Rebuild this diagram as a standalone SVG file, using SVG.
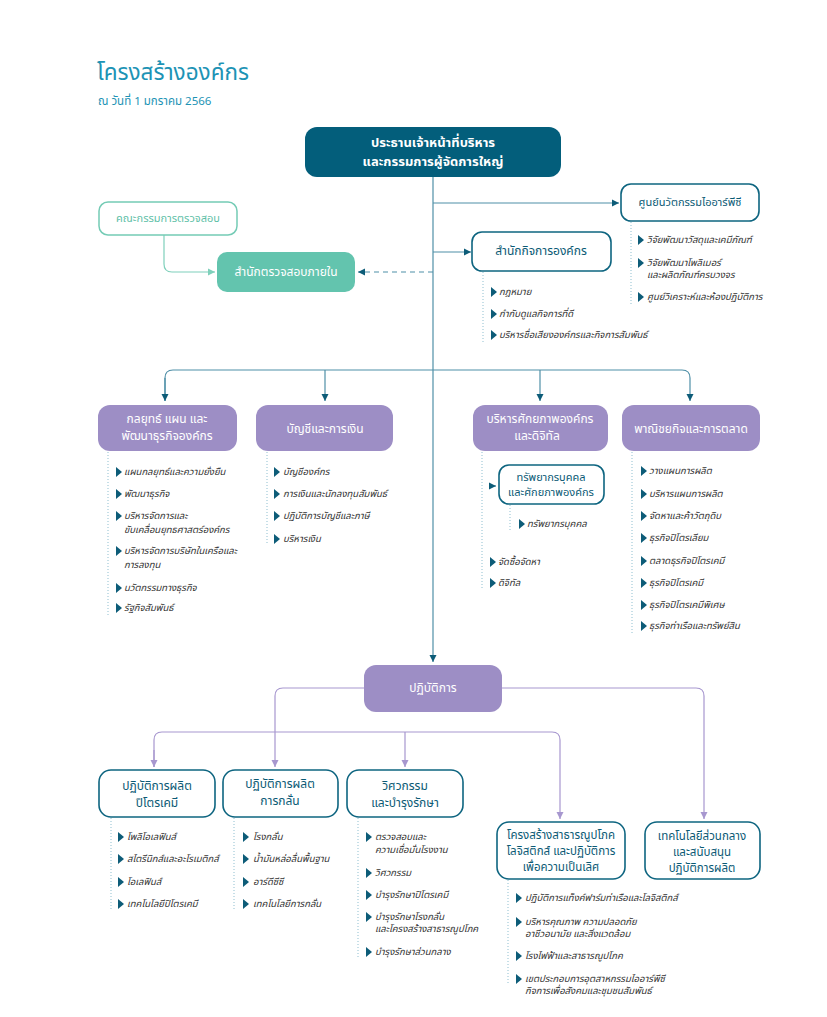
<svg xmlns="http://www.w3.org/2000/svg" xmlns:xlink="http://www.w3.org/1999/xlink" width="827" height="1017" viewBox="0 0 827 1017">
<defs>
<style>
text{font-family:"Noto Sans Thai","Noto Sans Thai UI","Noto Sans","DejaVu Sans",sans-serif}
.title{font-size:22.5px;fill:#1d93b5}
.sub{font-size:11.5px;fill:#1d93b5}
.nw{fill:#fff;font-size:12px;text-anchor:middle;dominant-baseline:central}
.nb{fill:#fff;font-size:13px;font-weight:bold;text-anchor:middle;dominant-baseline:central}
.nd{fill:#0b5a75;font-size:12px;text-anchor:middle;dominant-baseline:central}
.ns{fill:#0b5a75;font-size:11px;text-anchor:middle;dominant-baseline:central}
.nm{fill:#5fbfa8;font-size:11px;text-anchor:middle;dominant-baseline:central}
.it{fill:#333;font-size:9.5px;font-style:italic;dominant-baseline:central}
.dot{stroke:#8fbfd0;stroke-width:1;stroke-dasharray:1 2;fill:none}
.conn{stroke:#4f8fa7;stroke-width:1.2;fill:none}
.dash{stroke:#4f8fa7;stroke-width:1.2;fill:none;stroke-dasharray:5 4}
.pconn{stroke:#a797cf;stroke-width:1.2;fill:none}
.mconn{stroke:#7fd0bb;stroke-width:1.2;fill:none}
.wbox{fill:#fff;stroke:#0e6580;stroke-width:1.6}
.mbox{fill:#fff;stroke:#74cbb5;stroke-width:1.5}
.pbox{fill:#9d8ec5}
.tri{fill:#0d5c78}
</style>
<marker id="ab" viewBox="0 0 10 10" refX="10" refY="5" markerWidth="7" markerHeight="8" markerUnits="userSpaceOnUse" orient="auto"><path d="M0,0 L10,5 L0,10 Z" fill="#0d5c78"/></marker>
<marker id="ap" viewBox="0 0 10 10" refX="10" refY="5" markerWidth="7" markerHeight="9" markerUnits="userSpaceOnUse" orient="auto"><path d="M0,0 L10,5 L0,10 Z" fill="#a797cf"/></marker>
<marker id="am" viewBox="0 0 10 10" refX="10" refY="5" markerWidth="7" markerHeight="9" markerUnits="userSpaceOnUse" orient="auto"><path d="M0,0 L10,5 L0,10 Z" fill="#7fd0bb"/></marker>
<path id="tr" class="tri" d="M0,-5 L6,0 L0,5 Z"/>
</defs>
<rect width="827" height="1017" fill="#fff"/>

<g id="header">
<text class="title" x="97" y="80">โครงสร้างองค์กร</text>
<text class="sub" x="98" y="105">ณ วันที่ 1 มกราคม 2566</text>
</g>

<g id="connectors">
<path class="conn" d="M433,177 V662" marker-end="url(#ab)"/>
<path class="conn" d="M433,203 H619" marker-end="url(#ab)"/>
<path class="conn" d="M433,252 H471" marker-end="url(#ab)"/>
<path class="dash" d="M433,272 H358" marker-end="url(#ab)"/>
<path class="mconn" d="M164,235 V264 Q164,272 172,272 H215" marker-end="url(#am)"/>
<path class="conn" d="M165,401 V378 Q165,370 173,370 H682 Q690,370 690,378 V401" marker-end="url(#ab)"/>
<path class="conn" d="M165,378 V401" marker-end="url(#ab)"/>
<path class="conn" d="M325,370 V401" marker-end="url(#ab)"/>
<path class="conn" d="M540,370 V401" marker-end="url(#ab)"/>
<path class="pconn" d="M364,688 H283 Q275,688 275,696 V767" marker-end="url(#ap)"/>
<path class="pconn" d="M502,688 H696 Q704,688 704,696 V819" marker-end="url(#ap)"/>
<path class="pconn" d="M154,767 V740 Q154,732 162,732 H552 Q560,732 560,740 V819" marker-end="url(#ap)"/>
<path class="pconn" d="M154,750 V767" marker-end="url(#ap)"/>
<path class="pconn" d="M405,732 V767" marker-end="url(#ap)"/>
<path class="conn" d="M491,486 H496" marker-end="url(#ab)"/>
</g>

<g id="n-ceo">
<rect x="305" y="127" width="256" height="50" rx="12" fill="#035e7b"/>
<text class="nb" x="433" y="143">ประธานเจ้าหน้าที่บริหาร</text>
<text class="nb" x="433" y="162">และกรรมการผู้จัดการใหญ่</text>
</g>

<g id="n-audit-committee">
<rect class="mbox" x="99" y="202" width="138" height="33" rx="9"/>
<text class="nm" x="168" y="218">คณะกรรมการตรวจสอบ</text>
</g>

<g id="n-internal-audit">
<rect x="217" y="252" width="138" height="40" rx="10" fill="#63c4ae"/>
<text class="nw" x="286" y="272">สำนักตรวจสอบภายใน</text>
</g>

<g id="n-irpc-innovation">
<rect class="wbox" x="621" y="184" width="138" height="37" rx="10"/>
<text class="nd" x="690" y="202" style="font-size:11px">ศูนย์นวัตกรรมไออาร์พีซี</text>
<path class="dot" d="M631,222 V305"/>
<use href="#tr" x="638" y="240"/><text class="it" x="647" y="240">วิจัยพัฒนาวัสดุและเคมีภัณฑ์</text>
<use href="#tr" x="638" y="263"/><text class="it" x="647" y="263">วิจัยพัฒนาโพลิเมอร์</text><text class="it" x="647" y="275">และผลิตภัณฑ์ครบวงจร</text>
<use href="#tr" x="638" y="297"/><text class="it" x="647" y="297">ศูนย์วิเคราะห์และห้องปฏิบัติการ</text>
</g>

<g id="n-corporate-affairs">
<rect class="wbox" x="472" y="232" width="139" height="39" rx="10"/>
<text class="nd" x="541" y="251">สำนักกิจการองค์กร</text>
<path class="dot" d="M483,272 V342"/>
<use href="#tr" x="491" y="292"/><text class="it" x="499" y="292">กฎหมาย</text>
<use href="#tr" x="491" y="314"/><text class="it" x="499" y="314">กำกับดูแลกิจการที่ดี</text>
<use href="#tr" x="491" y="335"/><text class="it" x="499" y="335">บริหารชื่อเสียงองค์กรและกิจการสัมพันธ์</text>
</g>

<g id="n-strategy">
<rect class="pbox" x="98" y="405" width="139" height="46" rx="12"/>
<text class="nw" x="167" y="419">กลยุทธ์ แผน และ</text>
<text class="nw" x="167" y="436">พัฒนาธุรกิจองค์กร</text>
<path class="dot" d="M108,452 V615"/>
<use href="#tr" x="116" y="472"/><text class="it" x="124" y="472">แผนกลยุทธ์และความยั่งยืน</text>
<use href="#tr" x="116" y="494"/><text class="it" x="124" y="494">พัฒนาธุรกิจ</text>
<use href="#tr" x="116" y="516"/><text class="it" x="124" y="516">บริหารจัดการและ</text><text class="it" x="124" y="530">ขับเคลื่อนยุทธศาสตร์องค์กร</text>
<use href="#tr" x="116" y="551"/><text class="it" x="124" y="551">บริหารจัดการบริษัทในเครือและ</text><text class="it" x="124" y="565">การลงทุน</text>
<use href="#tr" x="116" y="588"/><text class="it" x="124" y="588">นวัตกรรมทางธุรกิจ</text>
<use href="#tr" x="116" y="608"/><text class="it" x="124" y="608">รัฐกิจสัมพันธ์</text>
</g>

<g id="n-finance">
<rect class="pbox" x="256" y="405" width="137" height="46" rx="12"/>
<text class="nw" x="325" y="429">บัญชีและการเงิน</text>
<path class="dot" d="M267,452 V545"/>
<use href="#tr" x="274" y="472"/><text class="it" x="283" y="472">บัญชีองค์กร</text>
<use href="#tr" x="274" y="494"/><text class="it" x="283" y="494">การเงินและนักลงทุนสัมพันธ์</text>
<use href="#tr" x="274" y="516"/><text class="it" x="283" y="516">ปฏิบัติการบัญชีและภาษี</text>
<use href="#tr" x="274" y="539"/><text class="it" x="283" y="539">บริหารเงิน</text>
</g>

<g id="n-capability-digital">
<rect class="pbox" x="473" y="405" width="135" height="46" rx="12"/>
<text class="nw" x="540" y="419">บริหารศักยภาพองค์กร</text>
<text class="nw" x="537" y="436">และดิจิทัล</text>
<path class="dot" d="M482,452 V590"/>
<use href="#tr" x="490" y="562"/><text class="it" x="498" y="562">จัดซื้อจัดหา</text>
<use href="#tr" x="490" y="583"/><text class="it" x="498" y="583">ดิจิทัล</text>
</g>

<g id="n-hr">
<rect class="wbox" x="499" y="465" width="105" height="39" rx="10"/>
<text class="ns" x="551" y="477">ทรัพยากรบุคคล</text>
<text class="ns" x="551" y="492">และศักยภาพองค์กร</text>
<path class="dot" d="M510,505 V530"/>
<use href="#tr" x="519" y="524"/><text class="it" x="527" y="524">ทรัพยากรบุคคล</text>
</g>

<g id="n-commercial">
<rect class="pbox" x="622" y="405" width="138" height="46" rx="12"/>
<text class="nw" x="691" y="429">พาณิชยกิจและการตลาด</text>
<path class="dot" d="M632,452 V633"/>
<use href="#tr" x="641" y="471"/><text class="it" x="649" y="471">วางแผนการผลิต</text>
<use href="#tr" x="641" y="494"/><text class="it" x="649" y="494">บริหารแผนการผลิต</text>
<use href="#tr" x="641" y="516"/><text class="it" x="649" y="516">จัดหาและค้าวัตถุดิบ</text>
<use href="#tr" x="641" y="538"/><text class="it" x="649" y="538">ธุรกิจปิโตรเลียม</text>
<use href="#tr" x="641" y="561"/><text class="it" x="649" y="561">ตลาดธุรกิจปิโตรเคมี</text>
<use href="#tr" x="641" y="583"/><text class="it" x="649" y="583">ธุรกิจปิโตรเคมี</text>
<use href="#tr" x="641" y="605"/><text class="it" x="649" y="605">ธุรกิจปิโตรเคมีพิเศษ</text>
<use href="#tr" x="641" y="626"/><text class="it" x="649" y="626">ธุรกิจท่าเรือและทรัพย์สิน</text>
</g>

<g id="n-operations">
<rect class="pbox" x="364" y="665" width="138" height="47" rx="12"/>
<text class="nw" x="433" y="688">ปฏิบัติการ</text>
</g>

<g id="n-petrochem-ops">
<rect class="wbox" x="99" y="770" width="116" height="47" rx="12"/>
<text class="nd" x="157" y="786">ปฏิบัติการผลิต</text>
<text class="nd" x="157" y="803">ปิโตรเคมี</text>
<path class="dot" d="M111,818 V910"/>
<use href="#tr" x="118" y="837"/><text class="it" x="127" y="837">โพลิโอเลฟินส์</text>
<use href="#tr" x="118" y="859"/><text class="it" x="127" y="859">สไตรีนิกส์และอะโรเมติกส์</text>
<use href="#tr" x="118" y="882"/><text class="it" x="127" y="882">โอเลฟินส์</text>
<use href="#tr" x="118" y="904"/><text class="it" x="127" y="904">เทคโนโลยีปิโตรเคมี</text>
</g>

<g id="n-refinery-ops">
<rect class="wbox" x="223" y="770" width="115" height="47" rx="12"/>
<text class="nd" x="280" y="784">ปฏิบัติการผลิต</text>
<text class="nd" x="280" y="801">การกลั่น</text>
<path class="dot" d="M234,818 V910"/>
<use href="#tr" x="243" y="837"/><text class="it" x="253" y="837">โรงกลั่น</text>
<use href="#tr" x="243" y="859"/><text class="it" x="253" y="859">น้ำมันหล่อลื่นพื้นฐาน</text>
<use href="#tr" x="243" y="882"/><text class="it" x="253" y="882">อาร์ดีซีซี</text>
<use href="#tr" x="243" y="904"/><text class="it" x="253" y="904">เทคโนโลยีการกลั่น</text>
</g>

<g id="n-engineering">
<rect class="wbox" x="347" y="770" width="116" height="47" rx="12"/>
<text class="nd" x="405" y="786">วิศวกรรม</text>
<text class="nd" x="405" y="803">และบำรุงรักษา</text>
<path class="dot" d="M358,818 V958"/>
<use href="#tr" x="366" y="837"/><text class="it" x="375" y="837">ตรวจสอบและ</text><text class="it" x="375" y="850">ความเชื่อมั่นโรงงาน</text>
<use href="#tr" x="366" y="873"/><text class="it" x="375" y="873">วิศวกรรม</text>
<use href="#tr" x="366" y="895"/><text class="it" x="375" y="895">บำรุงรักษาปิโตรเคมี</text>
<use href="#tr" x="366" y="917"/><text class="it" x="375" y="917">บำรุงรักษาโรงกลั่น</text><text class="it" x="375" y="929">และโครงสร้างสาธารณูปโภค</text>
<use href="#tr" x="366" y="952"/><text class="it" x="375" y="952">บำรุงรักษาส่วนกลาง</text>
</g>

<g id="n-infrastructure">
<rect class="wbox" x="497" y="822" width="128" height="57" rx="12"/>
<text class="ns" x="561" y="835" style="font-size:11.5px">โครงสร้างสาธารณูปโภค</text>
<text class="ns" x="561" y="851" style="font-size:11.5px">โลจิสติกส์ และปฏิบัติการ</text>
<text class="ns" x="561" y="867" style="font-size:11.5px">เพื่อความเป็นเลิศ</text>
<path class="dot" d="M508,880 V985"/>
<use href="#tr" x="516" y="898"/><text class="it" x="525" y="898">ปฏิบัติการแท็งค์ฟาร์มท่าเรือและโลจิสติกส์</text>
<use href="#tr" x="516" y="922"/><text class="it" x="525" y="922">บริหารคุณภาพ ความปลอดภัย</text><text class="it" x="525" y="934">อาชีวอนามัย และสิ่งแวดล้อม</text>
<use href="#tr" x="516" y="956"/><text class="it" x="525" y="956">โรงไฟฟ้าและสาธารณูปโภค</text>
<use href="#tr" x="516" y="979"/><text class="it" x="525" y="979">เขตประกอบการอุตสาหกรรมไออาร์พีซี</text><text class="it" x="525" y="991">กิจการเพื่อสังคมและชุมชนสัมพันธ์</text>
</g>

<g id="n-central-tech">
<rect class="wbox" x="645" y="822" width="115" height="57" rx="12"/>
<text class="ns" x="702" y="836" style="font-size:11.5px">เทคโนโลยีส่วนกลาง</text>
<text class="ns" x="702" y="852" style="font-size:11.5px">และสนับสนุน</text>
<text class="ns" x="702" y="868" style="font-size:11.5px">ปฏิบัติการผลิต</text>
</g>
</svg>
